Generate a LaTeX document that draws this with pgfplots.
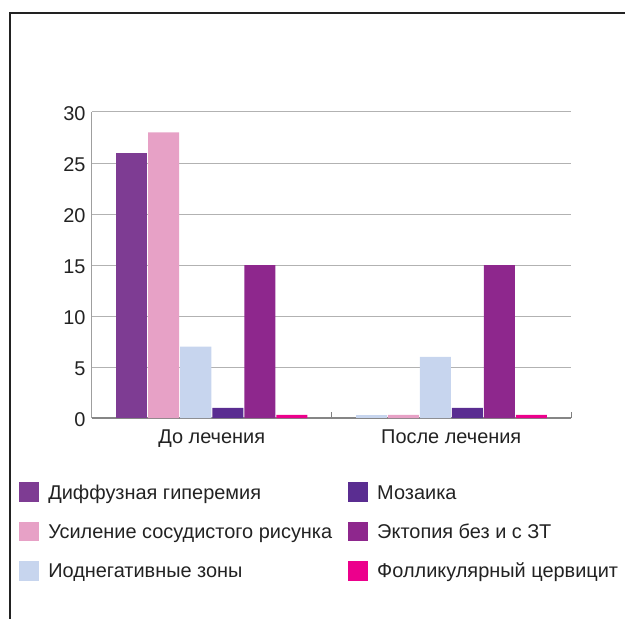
\documentclass[border=0pt]{standalone}
\usepackage{fontspec}
\setmainfont{Liberation Sans}
\usepackage{pgfplots}
\pgfplotsset{compat=1.18}
\definecolor{c1}{HTML}{7E3C93}
\definecolor{c2}{HTML}{E7A1C6}
\definecolor{c3}{HTML}{C7D5EE}
\definecolor{c4}{HTML}{5A2D91}
\definecolor{c5}{HTML}{8E278D}
\definecolor{c6}{HTML}{EC008C}
\definecolor{txt}{HTML}{222222}
\begin{document}
\begin{tikzpicture}
\begin{axis}[
  scale only axis, width=479bp, height=306bp,
  xmin=-0.5, xmax=1.5, ymin=0, ymax=30,
  axis x line*=bottom, axis y line*=left,
  xtick={0,1}, xticklabels={До лечения, После лечения},
  minor xtick={-0.5,0.5,1.5},
  ytick={0,5,...,30},
  ymajorgrids, grid style={draw=gray!60, line width=1bp},
  major tick length=0pt, minor tick length=6bp,
  tick align=inside, xtick align=inside,
  minor x tick style={draw=gray, line width=1bp, yshift=6bp},
  x axis line style={draw=gray!95, line width=1.2bp},
  y axis line style={draw=gray!75, line width=1bp},
  tick label style={font=\fontsize{20}{22}\selectfont, text=txt},
  yticklabel style={xshift=-3bp, yshift=-1.5bp},
  xticklabel style={yshift=-8bp},
  /pgf/number format/assume math mode=true,
  ybar, bar width=31bp,
  legend style={
    at={(axis description cs:0,0)}, anchor=north west, xshift=-72.7bp, yshift=-64.3bp,
    draw=none, fill=none, inner sep=0pt, outer sep=0pt,
    font=\fontsize{20}{22}\selectfont, text=txt,
    nodes={inner sep=0pt, text height=14bp, text depth=0bp},
    row sep=20bp, column sep=0pt,
    /tikz/every odd column/.append style={column sep=9bp},
    /tikz/every even column/.append style={column sep=16bp},
  },
  legend cell align=left,
  legend columns=3, transpose legend,
  legend image code/.code={\fill[#1] (0bp,-9.7bp) rectangle (20bp,9.7bp);},
]
\addplot[fill=c1, draw=none, bar shift=-80bp] coordinates {(0,26)};
\addlegendentry{Диффузная гиперемия}
\addplot[fill=c2, draw=none, bar shift=-48bp] coordinates {(0,28) (1,0.3)};
\addlegendentry{Усиление сосудистого рисунка}
\addplot[fill=c3, draw=none, bar shift=-16bp] coordinates {(0,7) (1,6)};
\addlegendentry{Иоднегативные зоны}
\addplot[fill=c4, draw=none, bar shift=16bp] coordinates {(0,1) (1,1)};
\addlegendentry{Мозаика}
\addplot[fill=c5, draw=none, bar shift=48bp] coordinates {(0,15) (1,15)};
\addlegendentry{Эктопия без и с ЗТ}
\addplot[fill=c6, draw=none, bar shift=80bp] coordinates {(0,0.3) (1,0.3)};
\addlegendentry{Фолликулярный цервицит}
\addplot[fill=c3, draw=none, bar shift=-80bp, forget plot] coordinates {(1,0.3)};
\end{axis}
\draw[line width=1.3bp, txt] ([xshift=-82bp, yshift=-201bp]current axis.south west) -- ([xshift=-82bp, yshift=99bp]current axis.north west) -- ([xshift=54bp, yshift=99bp]current axis.north east);
\pgfresetboundingbox
\path[use as bounding box] ([xshift=-92bp,yshift=-201bp]current axis.south west) rectangle ([xshift=54bp,yshift=112bp]current axis.north east);
\end{tikzpicture}
\end{document}
